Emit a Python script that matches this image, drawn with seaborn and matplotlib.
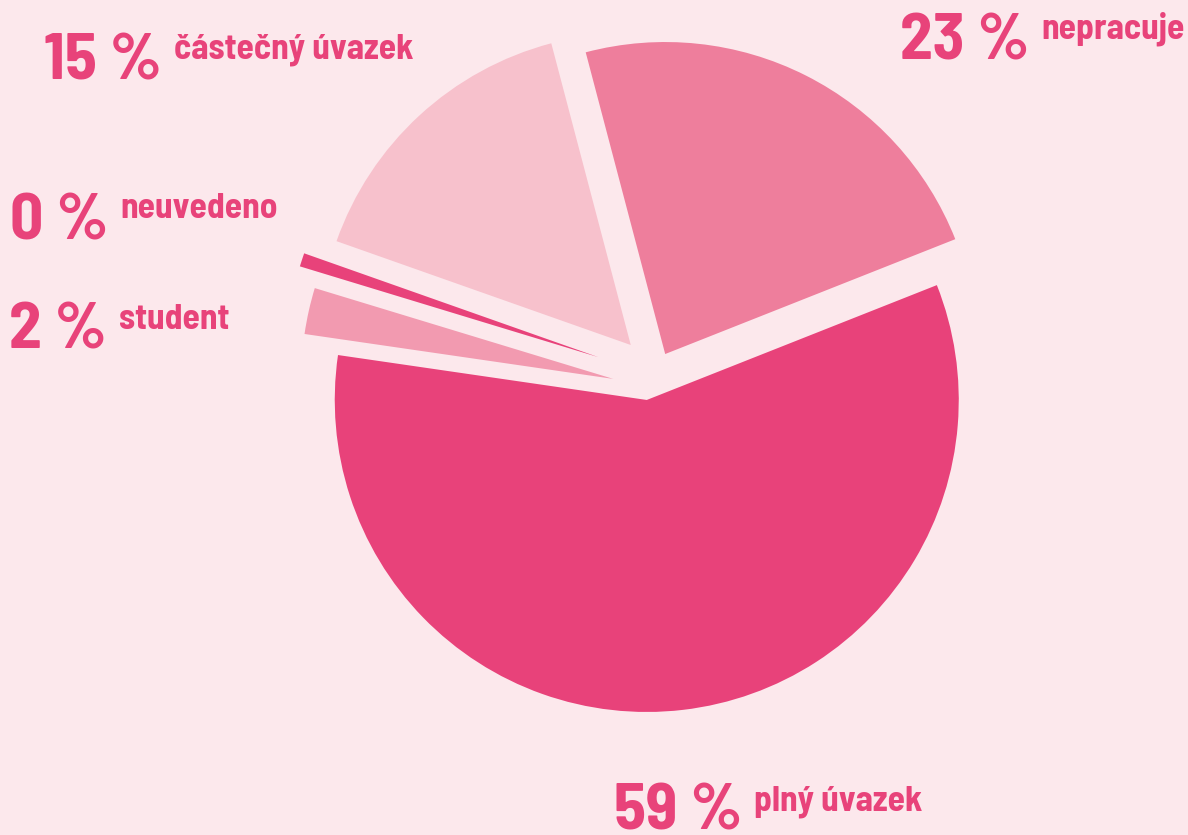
import numpy as np
import matplotlib
matplotlib.use("Agg")
import matplotlib.pyplot as plt
import seaborn as sns

# shares of respondents by work status
categories = ["nepracuje", "částečný úvazek", "neuvedeno", "student", "plný úvazek"]
shares = [23.1, 15.5, 0.7, 2.4, 58.3]
pct_labels = [23, 15, 0, 2, 59]

# styling
bg = "#FCE8EC"
text_color = "#E8437A"
slice_colors = ["#EE7E9C", "#F7C1CC", "#E8427A", "#F29AB0", "#E8427A"]
explode = [0.102, 0.129, 0.182, 0.117, 0.056]
nudge = [-0.003, -0.035, -0.024, 0.016, -0.017]   # sideways shift, radius units

# label layout in figure pixels: (left of number, baseline of number, baseline of name)
label_layout = [(900, 60, 38), (44, 79, 58), (10, 239, 218), (9, 349, 329), (614, 829, 811)]

sns.set_theme(style="white")
plt.rcParams["font.family"] = ["Barlow Semi Condensed", "DejaVu Sans"]

W, H, DPI = 1188, 835, 100
fig = plt.figure(figsize=(W / DPI, H / DPI), dpi=DPI, facecolor=bg)
ax = fig.add_axes([0, 0, 1, 1])
ax.set_facecolor(bg)

wedges, _ = ax.pie(shares, colors=slice_colors, startangle=21.6, counterclock=True,
                   explode=explode, radius=1.0, wedgeprops=dict(linewidth=0))

for w, n in zip(wedges, nudge):
    th = np.deg2rad((w.theta1 + w.theta2) / 2)
    cx, cy = w.center
    w.set_center((cx - n * np.sin(th), cy + n * np.cos(th)))

# pie centre at (650, 382) px from top-left, radius 312 px
r_px, cx_px, cy_px = 312.0, 650.0, 382.0
ax.set_xlim(-cx_px / r_px, (W - cx_px) / r_px)
ax.set_ylim(-(H - cy_px) / r_px, cy_px / r_px)
ax.set_aspect("auto")
ax.axis("off")

for name, pct, (x0, yb, yn) in zip(categories, pct_labels, label_layout):
    num = fig.text(x0 / W, 1 - yb / H, f"{pct} %", fontsize=47, fontweight="bold",
                   color=text_color, ha="left", va="baseline")
    ax.annotate(name, xy=(1, H - yn), xycoords=(num, "figure pixels"),
                xytext=(12, 0), textcoords="offset pixels",
                fontsize=25.5, fontweight="bold", color=text_color,
                ha="left", va="baseline", annotation_clip=False)

fig.savefig("out.png", dpi=DPI, facecolor=bg)
